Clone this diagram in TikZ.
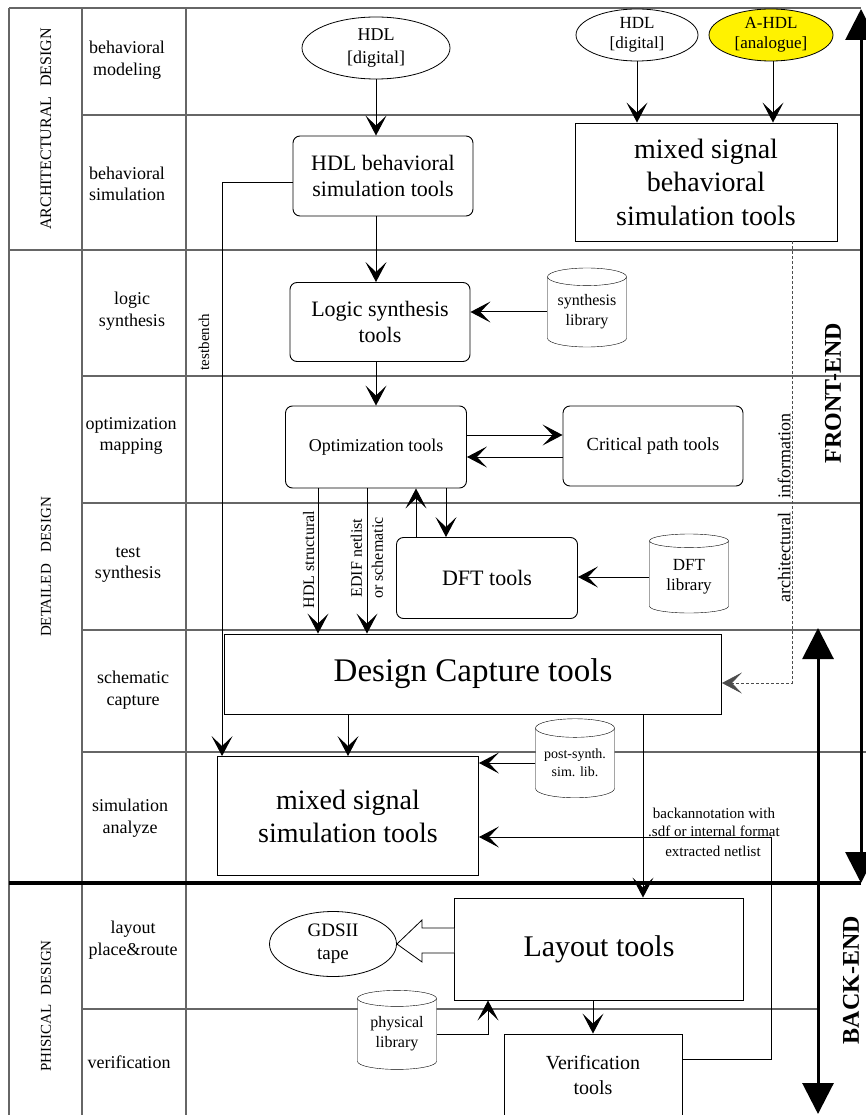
\documentclass[tikz,border=0pt]{standalone}
\usepackage{fontspec}
\setmainfont{Liberation Serif}
\usetikzlibrary{calc}
\usetikzlibrary{positioning}
\usetikzlibrary{arrows.meta}
\usetikzlibrary{shapes.geometric}

\begin{document}
\begin{tikzpicture}[%
  x=1pt, y=-1pt,
  >={Stealth[length=20pt,width=21pt,inset=10pt]},
  lanegrid/.style={draw=black!60, line width=1.2pt},
  tool/.style={draw, line width=0.9pt, fill=white, align=center, inner sep=0pt},
  rtool/.style={tool, rounded corners=7pt},
  lib/.style={draw, cylinder, shape border rotate=90, aspect=0.3, fill=white,
    align=center, inner sep=0pt, minimum width=79pt, minimum height=79pt},
  src/.style={draw, ellipse, align=center, inner sep=0pt, line width=0.8pt},
  lane/.style={align=center, font=\fontsize{18}{21.5}\selectfont},
  stage/.style={rotate=90, font=\fontsize{15}{18}\selectfont},
  flow/.style={-{Stealth[length=20pt,width=21pt,inset=10pt]}, line width=1pt},
  phase/.style={{Triangle[length=31pt,width=31pt]}-{Triangle[length=31pt,width=31pt]},
    line width=3pt}
]
  \useasboundingbox (0,0) rectangle (866,1115);

  % lanes
  \draw[lanegrid] (9,8) -- (9,1115);
  \draw[lanegrid] (82,8) -- (82,1115);
  \draw[lanegrid] (186,8) -- (186,1115);
  \draw[lanegrid] (9,8) -- (861,8);
  \draw[lanegrid] (82,115) -- (861,115);
  \draw[lanegrid] (9,250) -- (861,250);
  \draw[lanegrid] (82,376) -- (861,376);
  \draw[lanegrid] (82,503) -- (861,503);
  \draw[lanegrid] (82,630) -- (861,630);
  \draw[lanegrid] (82,752) -- (866,752);
  \draw[lanegrid] (82,1009) -- (818,1009);
  \draw[line width=3.5pt] (9,883) -- (861,883);

  \node[stage, font=\fontsize{16}{18}\selectfont] (archd) at (46,129) {ARCHITECTURAL\hspace{0.6em}DESIGN};
  \node[stage] (detd) at (46,567) {DETAILED\hspace{0.8em}DESIGN};
  \node[stage] (physd) at (46,1006) {PHISICAL\hspace{0.6em}DESIGN};

  \node[lane] (lmod) at (127,60) {behavioral\\modeling};
  \node[lane] (lsim) at (127,184) {behavioral\\simulation};
  \node[lane] (llog) at (132,311) {logic\\synthesis};
  \node[lane] (lopt) at (131,436) {optimization\\mapping};
  \node[lane] (ltst) at (128,565) {test\\synthesis};
  \node[lane] (lsch) at (133,690) {schematic\\capture};
  \node[lane] (lana) at (130,818) {simulation\\analyze};
  \node[lane] (llay) at (133,940) {layout\\place\&route};
  \node[lane] (lver) at (129,1062) {verification};

  \coordinate (spine) at (376,0);

  % tools
  \node[src, minimum width=148pt, minimum height=62pt, font=\fontsize{18}{23}\selectfont]
    (hdlA) at (376,48) {HDL\\{[digital]}};
  \node[src, minimum width=122pt, minimum height=52pt, font=\fontsize{17}{20}\selectfont]
    (hdlB) at (637,35) {HDL\\{[digital]}};
  \node[src, fill=yellow, minimum width=124pt, minimum height=52pt, font=\fontsize{17}{20}\selectfont]
    (ahdl) at (771,35) {A-HDL\\{[analogue]}};
  \node[rtool, minimum width=180pt, minimum height=80pt, font=\fontsize{22}{26}\selectfont]
    (hdlsim) at (383,176) {HDL behavioral\\simulation tools};
  \node[tool, minimum width=262pt, minimum height=118pt, font=\fontsize{28}{33.5}\selectfont]
    (msbeh) at (706,182) {mixed signal\\behavioral\\simulation tools};
  \node[rtool, minimum width=180pt, minimum height=79pt, font=\fontsize{22}{26}\selectfont]
    (logic) at (380,322) {Logic synthesis\\tools};
  \node[lib, font=\fontsize{16}{20}\selectfont] (synlib) at (587,312) {synthesis\\library};
  \node[rtool, minimum width=181pt, minimum height=82pt, font=\fontsize{18}{21}\selectfont]
    (opt) at (376,447) {Optimization tools};
  \node[rtool, minimum width=180pt, minimum height=80pt, font=\fontsize{18.5}{21}\selectfont]
    (crit) at (653,446) {Critical path tools};
  \node[rtool, minimum width=181pt, minimum height=81pt, font=\fontsize{22}{26}\selectfont]
    (dft) at (487,578) {DFT tools};
  \node[lib, font=\fontsize{17}{20}\selectfont] (dftlib) at (689,577) {DFT\\library};
  \node[tool, minimum width=497pt, minimum height=80pt, font=\fontsize{33}{38}\selectfont]
    (dc) at (473,674) {Design Capture tools};
  \node[tool, minimum width=261pt, minimum height=119pt, font=\fontsize{28}{33}\selectfont]
    (mss) at (348,816) {mixed signal\\simulation tools};
  \node[lib, font=\fontsize{14}{18}\selectfont] (postlib) at (575,763) {post-synth.\\sim. lib.};
  \node[tool, minimum width=289pt, minimum height=102pt, font=\fontsize{30}{34}\selectfont]
    (layout) at (599,949) {Layout tools};
  \node[src, minimum width=127pt, minimum height=65pt, font=\fontsize{19}{23}\selectfont]
    (gds) at (333,944) {GDSII\\tape};
  \node[lib, font=\fontsize{16}{20}\selectfont] (physlib) at (397,1034) {physical\\library};
  \node[tool, minimum width=178pt, minimum height=82pt, font=\fontsize{20}{25}\selectfont]
    (verif) at (593,1075) {Verification\\tools};

  % flow
  \draw[flow] (hdlA.south) -- (hdlA.south |- hdlsim.north);
  \draw[flow] (hdlB.south) -- (hdlB.south |- msbeh.north);
  \draw[flow] ([xshift=2pt]ahdl.south) -- ([xshift=2pt]ahdl.south |- msbeh.north);
  \draw[flow] (spine |- hdlsim.south) -- (spine |- logic.north);
  \draw[flow] (synlib.west) -- (synlib.west -| logic.east);
  \draw[flow] (spine |- logic.south) -- (opt.north);
  \draw[flow] ([yshift=12pt]opt.east) -- ([yshift=12pt]opt.east -| crit.west);
  \draw[flow] ([yshift=-11pt]crit.west) -- ([yshift=-11pt]crit.west -| opt.east);
  \draw[flow] ([xshift=40pt]opt.south |- dft.north) -- ([xshift=40pt]opt.south);
  \draw[flow] ([xshift=70pt]opt.south) -- ([xshift=70pt]opt.south |- dft.north);
  \draw[flow] (dftlib.west) -- (dftlib.west -| dft.east);
  \draw[flow] ([xshift=-58pt]opt.south) -- ([xshift=-58pt]opt.south |- dc.north)
    node[pos=0.49, above, rotate=90, font=\fontsize{16}{19}\selectfont] (hdlst) {HDL structural};
  \draw[flow] ([xshift=-9pt]opt.south) -- ([xshift=-9pt]opt.south |- dc.north)
    node[pos=0.48, rotate=90, align=center, font=\fontsize{16}{21}\selectfont] (edif) {EDIF netlist\\or schematic};
  \draw[flow] ([yshift=-7pt]hdlsim.west) -| ([xshift=5pt]mss.north west);
  \node[rotate=90, font=\fontsize{15}{18}\selectfont] (tb) at (204,342) {testbench};
  \draw[flow] (mss.north |- dc.south) -- (mss.north);
  \draw[flow] (postlib.west) -- (postlib.west -| mss.east);
  \draw[flow] ([xshift=170pt]dc.south) -- ([xshift=170pt]dc.south |- layout.north);
  \draw[flow, densely dashed, line width=0.6pt, draw=black!70]
    ([xshift=86pt]msbeh.south) |- ([yshift=-9pt]dc.east);
  \node[rotate=90, font=\fontsize{18}{21}\selectfont] (arch) at (784,508)
    {architectural\hspace{14pt}information};

  \coordinate (back) at (771,837);
  \draw[flow, line width=0.8pt] ([yshift=16pt]verif.east) -| (back) -- (back -| mss.east);
  \node[align=center, font=\fontsize{15}{18}\selectfont] (bann) at (714,822)
    {backannotation with\\.sdf or internal format};
  \node[font=\fontsize{15}{18}\selectfont] (extr) at (713,851) {extracted netlist};

  \draw[flow] (physlib.east) -| ([xshift=-111pt]layout.south);
  \draw[flow] (verif.north |- layout.south) -- (verif.north);

  % block arrow to the tape
  \draw[line width=0.8pt, fill=white] (layout.west |- 0,928) -- (422,928) -- (422,920)
    -- (gds.east) -- (422,962) -- (422,953) -- (layout.west |- 0,953);

  % front-end / back-end
  \coordinate (feTop) at (861,9);
  \coordinate (feBot) at (861,883);
  \coordinate (beTop) at (818,628);
  \coordinate (beBot) at (818,1114);
  \draw[phase] (feTop) -- (feBot);
  \draw[phase] (beTop) -- (beBot);
  \node[rotate=90, font=\bfseries\fontsize{24}{28}\selectfont] (fe) at (833,393) {FRONT-END};
  \node[rotate=90, font=\bfseries\fontsize{24}{28}\selectfont] (be) at (851,980) {BACK-END};

\end{tikzpicture}
\end{document}
